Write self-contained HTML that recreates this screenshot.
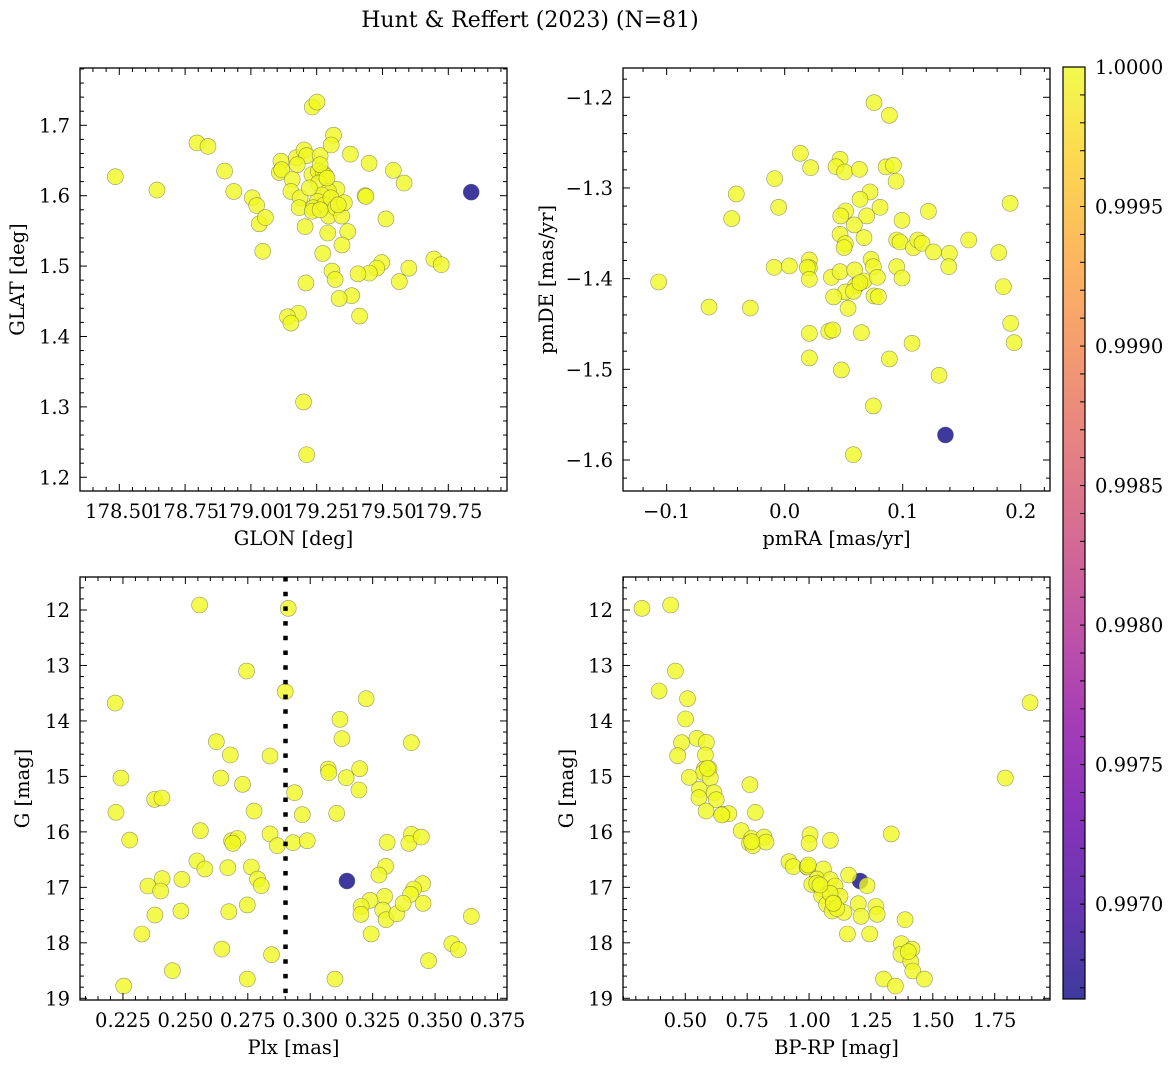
<!DOCTYPE html>
<html><head><meta charset="utf-8"><style>
html,body{margin:0;padding:0;background:#fff;}
svg{display:block;font-family:"DejaVu Serif","Liberation Serif",serif;}
</style></head><body>
<svg id="fig" width="1173" height="1067" viewBox="0 0 1173 1067" xmlns="http://www.w3.org/2000/svg">
<defs>
<linearGradient id="plasmaGrad" x1="0" y1="1" x2="0" y2="0">
<stop offset="0" stop-color="#0d0887"/><stop offset="0.1" stop-color="#41049d"/><stop offset="0.2" stop-color="#6a00a8"/><stop offset="0.3" stop-color="#8f0da4"/><stop offset="0.4" stop-color="#b12a90"/><stop offset="0.5" stop-color="#cc4778"/><stop offset="0.6" stop-color="#e16462"/><stop offset="0.7" stop-color="#f2844b"/><stop offset="0.8" stop-color="#fca636"/><stop offset="0.9" stop-color="#fcce25"/><stop offset="1" stop-color="#f0f921"/>
</linearGradient>
</defs>
<text x="530" y="27" font-size="22" text-anchor="middle">Hunt &amp; Reffert (2023) (N=81)</text>
</svg>
<script>
// ---------- data ----------
const glon=[178.485,178.643,178.795,178.837,178.900,178.935,179.005,179.022,179.032,179.055,179.045,179.114,179.108,179.117,179.173,179.202,179.212,179.176,179.263,179.157,179.152,179.187,179.183,179.232,179.256,179.275,179.284,179.257,179.327,179.295,179.270,179.252,179.237,179.233,179.280,179.304,179.295,179.322,179.345,179.355,179.332,179.206,179.292,179.368,179.346,179.273,179.378,179.449,179.434,179.541,179.582,179.513,179.314,179.305,179.233,179.251,179.695,179.723,179.600,179.497,179.478,179.450,179.407,179.308,179.320,179.209,179.564,179.383,179.335,179.413,179.181,179.139,179.152,179.200,179.212,179.437,179.263,179.289,179.222,179.263,179.837];
const glat=[1.627,1.608,1.675,1.670,1.635,1.606,1.597,1.586,1.560,1.569,1.521,1.649,1.633,1.637,1.654,1.665,1.657,1.644,1.657,1.623,1.606,1.597,1.583,1.630,1.635,1.632,1.628,1.618,1.609,1.606,1.601,1.592,1.583,1.578,1.587,1.597,1.571,1.583,1.571,1.590,1.587,1.556,1.547,1.549,1.530,1.518,1.659,1.646,1.600,1.636,1.618,1.567,1.686,1.672,1.726,1.733,1.510,1.502,1.497,1.505,1.497,1.490,1.489,1.493,1.481,1.476,1.478,1.458,1.454,1.429,1.433,1.428,1.419,1.307,1.232,1.599,1.644,1.625,1.611,1.580,1.605];
const pmra=[0.0757,0.0887,0.0133,0.0220,0.0469,0.0435,0.0508,0.0633,0.0859,0.0921,0.0944,-0.0085,-0.0410,-0.0051,-0.0449,0.0723,0.0638,0.0808,0.0517,0.0475,0.0695,0.0590,0.0994,0.1218,0.1910,0.0469,0.0514,0.0503,0.0672,0.0949,0.0977,0.1090,0.1127,0.1164,0.1260,0.1395,0.1559,0.1814,0.1390,-0.0090,0.0040,0.0209,0.0209,0.0192,0.0209,0.0395,0.0469,0.0593,0.0732,0.0751,0.0672,0.0619,0.0599,0.0785,0.0949,0.0994,0.0514,0.0582,0.0415,0.0757,0.0794,0.0537,-0.1068,-0.0641,-0.0291,0.1853,0.0209,0.0373,0.0407,0.0650,0.1079,0.1915,0.1944,0.0209,0.0887,0.0480,0.1308,0.0751,0.0582,0.0638,0.1362];
const pmde=[-1.2059,-1.2199,-1.2618,-1.2776,-1.2684,-1.2765,-1.2824,-1.2794,-1.2768,-1.2750,-1.2926,-1.2897,-1.3066,-1.3213,-1.3338,-1.3044,-1.3125,-1.3213,-1.3254,-1.3309,-1.3309,-1.3408,-1.3357,-1.3257,-1.3169,-1.3511,-1.3614,-1.3658,-1.3548,-1.3574,-1.3596,-1.3658,-1.3574,-1.3610,-1.3706,-1.3721,-1.3574,-1.3713,-1.3868,-1.3875,-1.3860,-1.3794,-1.3879,-1.3879,-1.4007,-1.3985,-1.3923,-1.3904,-1.3787,-1.3868,-1.4026,-1.4063,-1.4081,-1.3985,-1.3868,-1.3993,-1.4147,-1.4140,-1.4202,-1.4191,-1.4199,-1.4327,-1.4037,-1.4313,-1.4324,-1.4088,-1.4603,-1.4581,-1.4566,-1.4596,-1.4713,-1.4493,-1.4706,-1.4875,-1.4886,-1.5007,-1.5066,-1.5404,-1.5941,-1.4044,-1.5724];
const plx=[0.2557,0.2912,0.2745,0.2900,0.2219,0.3224,0.3119,0.3127,0.3405,0.2624,0.2680,0.2839,0.2242,0.2642,0.2729,0.3072,0.3074,0.3144,0.3198,0.3195,0.2937,0.2377,0.2406,0.2222,0.2775,0.2968,0.3106,0.2277,0.2560,0.2685,0.2709,0.2690,0.2839,0.2868,0.2931,0.2988,0.3308,0.3405,0.3395,0.3445,0.2546,0.2578,0.2670,0.2764,0.2789,0.2804,0.2407,0.2486,0.2350,0.2401,0.3302,0.3275,0.3450,0.3414,0.3402,0.3298,0.3239,0.3204,0.3203,0.3290,0.3304,0.3347,0.3372,0.3452,0.2378,0.2482,0.2674,0.2748,0.3244,0.2326,0.2646,0.2845,0.3567,0.3593,0.3645,0.3474,0.2448,0.2748,0.3099,0.2253,0.3147];
const gPlx=[11.910,11.970,13.100,13.472,13.677,13.599,13.971,14.320,14.392,14.374,14.614,14.632,15.029,15.029,15.143,14.867,14.933,15.023,14.861,15.245,15.293,15.413,15.389,15.648,15.624,15.690,15.666,16.147,15.978,16.159,16.117,16.207,16.038,16.249,16.195,16.159,16.189,16.044,16.207,16.093,16.525,16.669,16.645,16.633,16.850,16.970,16.844,16.856,16.976,17.066,16.621,16.778,16.934,17.030,17.126,17.162,17.234,17.343,17.487,17.409,17.583,17.475,17.288,17.288,17.499,17.427,17.439,17.318,17.841,17.841,18.112,18.214,18.016,18.124,17.523,18.322,18.502,18.653,18.653,18.779,16.886];
const bprp=[0.325,0.441,0.460,0.394,0.509,0.501,0.547,0.585,0.485,0.469,0.581,0.577,0.596,0.573,0.601,0.516,0.557,0.616,0.555,0.625,0.584,0.651,0.676,0.761,0.783,0.726,0.768,0.818,0.759,0.773,0.826,1.004,1.000,1.086,1.332,1.793,1.893,0.919,0.936,0.992,0.994,1.058,1.032,1.011,1.051,1.086,1.105,1.051,1.125,1.071,1.098,1.093,1.141,1.160,1.199,1.210,1.234,1.270,1.275,1.155,1.245,1.388,1.373,1.371,1.416,1.411,1.419,1.466,1.301,1.349,1.031,1.085,1.112,0.768,0.647,0.997,1.044,1.401,0.590,1.098,1.206];
const gCmd=[11.970,11.910,13.100,13.460,13.599,13.965,14.314,14.386,14.392,14.626,14.614,14.867,14.861,14.927,15.029,15.017,15.233,15.293,15.383,15.419,15.624,15.684,15.672,15.149,15.648,15.978,16.117,16.093,16.201,16.249,16.183,16.050,16.207,16.153,16.038,15.029,13.671,16.537,16.627,16.633,16.633,16.669,16.850,16.946,17.024,16.862,16.976,17.150,17.162,17.306,17.270,17.427,17.451,16.778,17.294,17.523,16.970,17.343,17.487,17.841,17.841,17.583,18.016,18.208,18.112,18.340,18.508,18.653,18.653,18.779,16.928,17.108,17.379,16.177,15.696,16.597,16.958,18.160,14.855,17.288,16.886];
const prob=[1,1,1,1,1,1,1,1,1,1,1,1,1,1,1,1,1,1,1,1,1,1,1,1,1,1,1,1,1,1,1,1,1,1,1,1,1,1,1,1,1,1,1,1,1,1,1,1,1,1,1,1,1,1,1,1,1,1,1,1,1,1,1,1,1,1,1,1,1,1,1,1,1,1,1,1,1,1,1,1,0.99666];
const plxRef=[0.2901];
const ticksGlon=[178.50,178.75,179.00,179.25,179.50,179.75];
const ticksGlat=[1.2,1.3,1.4,1.5,1.6,1.7];
const ticksPmra=[-0.1,0.0,0.1,0.2];
const ticksPmde=[-1.6,-1.5,-1.4,-1.3,-1.2];
const ticksPlx=[0.225,0.250,0.275,0.300,0.325,0.350,0.375];
const ticksG=[12,13,14,15,16,17,18,19];
const ticksBprp=[0.50,0.75,1.00,1.25,1.50,1.75];
const ticksCbar=[0.9970,0.9975,0.9980,0.9985,0.9990,0.9995,1.0000];

// ---------- helpers ----------
const NS="http://www.w3.org/2000/svg";
const svg=document.getElementById('fig');
const FS=19.5;
function mk(tag,attrs,parent){const e=document.createElementNS(NS,tag);for(const k in attrs)e.setAttribute(k,attrs[k]);(parent||svg).appendChild(e);return e;}
function fmt(v,d){const s=Math.abs(v).toFixed(d);return (v<-1e-12?'\u2212':'')+s;}
const stops=[[13,8,135],[65,4,157],[106,0,168],[143,13,164],[177,42,144],[204,71,120],[225,100,98],[242,132,75],[252,166,54],[252,206,37],[240,249,33]];
function plasma(t){t=Math.max(0,Math.min(1,t));const f=t*10,i=Math.min(9,Math.floor(f)),u=f-i;const a=stops[i],b=stops[i+1];return 'rgb('+[0,1,2].map(k=>Math.round(a[k]+(b[k]-a[k])*u)).join(',')+')';}
const vmin=Math.min(...prob),vmax=Math.max(...prob);

function panel(o){
  const g=mk('g',{});
  
  
  const sx=v=>o.bx0+(v-o.xd[0])/(o.xd[1]-o.xd[0])*(o.bx1-o.bx0);
  const sy=v=>o.by1-(v-o.yd[0])/(o.yd[1]-o.yd[0])*(o.by1-o.by0);
  const idx=o.xs.map((_,i)=>i).sort((a,b)=>prob[a]-prob[b]);
  const pg=mk('g',{},g);
  
  
  idx.forEach(i=>{
    const c=mk('circle',{cx:sx(o.xs[i]).toFixed(2),cy:sy(o.ys[i]).toFixed(2),r:8,fill:plasma((prob[i]-vmin)/(vmax-vmin)),'fill-opacity':0.8,stroke:'#555','stroke-opacity':0.6,'stroke-width':0.6},pg);
    
    
  });
  if(o.vline){
    const l=mk('line',{x1:sx(o.vline[0]),x2:sx(o.vline[0]),y1:o.by0,y2:o.by1,stroke:'#000','stroke-width':4.5,'stroke-dasharray':'4.5 10.2'},g);
    
    
  }
  const fr=mk('rect',{x:o.bx0,y:o.by0,width:o.bx1-o.bx0,height:o.by1-o.by0,fill:'none',stroke:'#000','stroke-width':1.3},g);
  
  
  const tk=mk('g',{stroke:'#000','stroke-width':1},g);
  
  
  const eps=1e-9;
  for(let v=Math.ceil(o.xd[0]/o.xmin-eps)*o.xmin;v<=o.xd[1]+eps;v+=o.xmin){const x=sx(v);const maj=o.xt.some(t=>Math.abs(t-v)<o.xmin/10);const L=maj?7:4;
    mk('line',{x1:x,x2:x,y1:o.by1,y2:o.by1-L},tk);mk('line',{x1:x,x2:x,y1:o.by0,y2:o.by0+L},tk);}
  for(let v=Math.ceil(o.yd[0]/o.ymin-eps)*o.ymin;v<=o.yd[1]+eps;v+=o.ymin){const y=sy(v);const maj=o.yt.some(t=>Math.abs(t-v)<o.ymin/10);const L=maj?7:4;
    mk('line',{y1:y,y2:y,x1:o.bx0,x2:o.bx0+L},tk);mk('line',{y1:y,y2:y,x1:o.bx1,x2:o.bx1-L},tk);}
  o.xt.forEach(v=>{const t=mk('text',{x:sx(v),y:o.by1+27,'font-size':FS,'text-anchor':'middle'},g);t.textContent=fmt(v,o.xdec);
    
    });
  o.yt.forEach(v=>{const t=mk('text',{x:o.bx0-10,y:sy(v)+7,'font-size':FS,'text-anchor':'end'},g);t.textContent=o.yneg?fmt(-v,o.ydec):fmt(v,o.ydec);
    
    });
  const xl=mk('text',{x:(o.bx0+o.bx1)/2,y:o.by1+54,'font-size':FS,'text-anchor':'middle'},g);xl.textContent=o.xlabel;
  
  
  const cy=(o.by0+o.by1)/2;
  const yl=mk('text',{x:o.ylx,y:cy,'font-size':FS,'text-anchor':'middle',transform:'rotate(-90 '+o.ylx+' '+cy+')'},g);yl.textContent=o.ylabel;
  
  
}

panel({name:'glon-glat-panel',bx0:80,bx1:507,by0:68,by1:491,xd:[178.3507,179.973],yd:[1.1805,1.7814],xs:glon,ys:glat,xt:ticksGlon,yt:ticksGlat,xmin:0.05,ymin:0.02,xdec:2,ydec:1,xlabel:'GLON [deg]',ylabel:'GLAT [deg]',ylx:24});
panel({name:'pmra-pmde-panel',bx0:623,bx1:1050,by0:68,by1:491,xd:[-0.1370,0.2248],yd:[-1.6342,-1.1677],xs:pmra,ys:pmde,xt:ticksPmra,yt:ticksPmde,xmin:0.02,ymin:0.02,xdec:1,ydec:1,xlabel:'pmRA [mas/yr]',ylabel:'pmDE [mas/yr]',ylx:553});
panel({name:'plx-g-panel',bx0:80,bx1:507,by0:577,by1:1000,xd:[0.2078,0.3788],yd:[-19.031,-11.405],xs:plx,ys:gPlx.map(v=>-v),xt:ticksPlx,yt:ticksG.map(v=>-v),yneg:true,xmin:0.005,ymin:0.2,xdec:3,ydec:0,xlabel:'Plx [mas]',ylabel:'G [mag]',ylx:29,vline:plxRef});
panel({name:'cmd-panel',bx0:623,bx1:1050,by0:577,by1:1000,xd:[0.2483,1.9735],yd:[-19.031,-11.405],xs:bprp,ys:gCmd.map(v=>-v),xt:ticksBprp,yt:ticksG.map(v=>-v),yneg:true,xmin:0.05,ymin:0.2,xdec:2,ydec:0,xlabel:'BP-RP [mag]',ylabel:'G [mag]',ylx:573});

// colorbar
const cb=mk('g',{});


const cbx0=1063,cbx1=1085,cby0=67,cby1=999,cmin=0.99666,cmax=1.0;
const csy=v=>cby1-(v-cmin)/(cmax-cmin)*(cby1-cby0);
mk('rect',{x:cbx0,y:cby0,width:cbx1-cbx0,height:cby1-cby0,fill:'url(#plasmaGrad)','fill-opacity':0.8},cb);
mk('rect',{x:cbx0,y:cby0,width:cbx1-cbx0,height:cby1-cby0,fill:'none',stroke:'#000','stroke-width':1.2},cb);
for(let v=Math.ceil(cmin/0.0001-1e-6)*0.0001;v<=cmax+1e-9;v+=0.0001){const y=csy(v);mk('line',{x1:cbx1,x2:cbx1-5,y1:y,y2:y,stroke:'#000','stroke-width':1},cb);}
ticksCbar.forEach(v=>{const t=mk('text',{x:1095,y:csy(v)+7,'font-size':FS},cb);t.textContent=v.toFixed(4);
  
  });
</script>
</body></html>
